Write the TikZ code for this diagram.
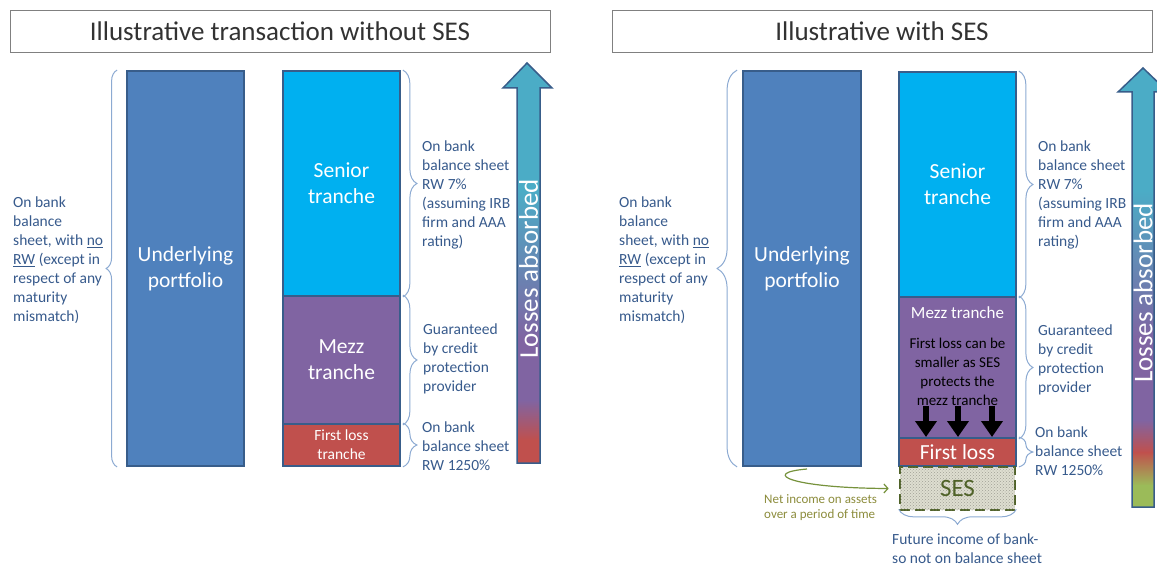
\documentclass[tikz,border=0pt]{standalone}
\usepackage{fontspec}
\setmainfont{Carlito}
\usetikzlibrary{decorations.pathreplacing,patterns,arrows.meta}
\definecolor{portblue}{HTML}{4F81BD}
\definecolor{rimblue}{HTML}{385D8A}
\definecolor{senblue}{HTML}{00B0F0}
\definecolor{mezzpurple}{HTML}{8064A2}
\definecolor{flred}{HTML}{C0504D}
\definecolor{arrteal}{HTML}{4BACC6}
\definecolor{arrgreen}{HTML}{9BBB59}
\definecolor{annotc}{RGB}{55,90,140}
\definecolor{bracec}{RGB}{140,170,210}
\definecolor{sesline}{HTML}{4F6228}
\definecolor{sesfill}{RGB}{222,222,208}
\definecolor{sesdot}{RGB}{160,160,150}
\definecolor{netc}{RGB}{140,140,60}
\definecolor{netarr}{RGB}{118,146,60}
\definecolor{titlec}{RGB}{50,50,50}
\tikzset{
  tranche/.style={draw=rimblue, line width=1.8pt, inner sep=0pt, text=white, align=center},
  bigtxt/.style={font=\fontsize{21.5}{26}\selectfont},
  annot/.style={text=annotc, align=left, anchor=west, inner sep=0pt, font=\fontsize{15.5}{19}\selectfont},
  brc/.style={draw=bracec, line width=1pt, decorate, decoration={brace, amplitude=#1}},
  brc/.default=12,
  titlebox/.style={draw=gray, line width=0.8pt, minimum width=540pt, minimum height=42pt, inner sep=0pt, text=titlec, font=\fontsize{27}{32}\selectfont},
  lossarrow/.style={draw=rimblue, line width=1.5pt, line join=miter},
  losstxt/.style={rotate=90, text=white, inner sep=0pt, font=\fontsize{27}{32}\selectfont},
  downarr/.style={line width=6pt, -{Triangle[width=21pt,length=16pt]}},
}
\begin{document}
\begin{tikzpicture}[x=1pt, y=-1pt]
\useasboundingbox (0,0) rectangle (1157,567);

% ---------- titles ----------
\node (t1) [titlebox] at (280,31) {Illustrative transaction without SES};
\node (t2) [titlebox] at (882,31) {Illustrative with SES};

% ---------- left panel ----------
\node (port) [tranche, fill=portblue, minimum width=117pt, minimum height=395pt, bigtxt] at (185.5,268.5) {Underlying\\portfolio};
\node (sen) [tranche, fill=senblue, minimum width=117pt, minimum height=225pt, bigtxt] at (341.5,183.5) {Senior\\tranche};
\node (mezz) [tranche, fill=mezzpurple, minimum width=117pt, minimum height=128pt, bigtxt] at (341.5,360) {Mezz\\tranche};
\node (fl) [tranche, fill=flred, minimum width=117pt, minimum height=42pt, font=\fontsize{15.5}{19}\selectfont] at (341.5,445) {First loss\\tranche};

\draw[brc=11] ([xshift=-9pt]port.south west) -- ([xshift=-9pt]port.north west);
\draw[brc=14] ([xshift=2pt]sen.north east) -- ([xshift=2pt]sen.south east);
\draw[brc=14] ([xshift=2pt]mezz.north east) -- ([xshift=2pt]mezz.south east);
\draw[brc=14] ([xshift=2pt]fl.north east) -- ([xshift=2pt]fl.south east);

\node (a1) [annot] at (13,260) {On bank\\balance\\sheet, with \underline{no}\\\underline{RW} (except in\\respect of any\\maturity\\mismatch)};
\node (a2) [annot] at (422,194.5) {On bank\\balance sheet\\RW 7\%\\(assuming IRB\\firm and AAA\\rating)};
\node (a3) [annot] at (423,359) {Guaranteed\\by credit\\protection\\provider};
\node (a4) [annot] at (422,446) {On bank\\balance sheet\\RW 1250\%};

% losses arrow (left)
\fill[arrteal] (527,63) -- (552,88) -- (503,88) -- cycle;
\fill[arrteal] (517,87) rectangle (540,190.5);
\shade[top color=arrteal, bottom color=mezzpurple] (517,190) rectangle (540,340.5);
\fill[mezzpurple] (517,340) rectangle (540,400.5);
\shade[top color=mezzpurple, bottom color=flred] (517,400) rectangle (540,440.5);
\fill[flred] (517,440) rectangle (540,463);
\draw[lossarrow] (527,63) -- (552,88) -- (540,88) -- (540,463) -- (517,463) -- (517,88) -- (503,88) -- cycle;
\node (lossL) [losstxt] at (528.5,269) {Losses absorbed};

% ---------- right panel ----------
\node (port2) [tranche, fill=portblue, minimum width=118pt, minimum height=395pt, bigtxt] at (802,268.5) {Underlying\\portfolio};
\node (sen2) [tranche, fill=senblue, minimum width=117pt, minimum height=225pt, bigtxt] at (957.5,184.5) {Senior\\tranche};
\node (mezz2) [tranche, fill=mezzpurple, minimum width=117pt, minimum height=141pt] at (957.5,367.5) {};
\node (fl2) [tranche, fill=flred, minimum width=117pt, minimum height=28pt, font=\fontsize{21.5}{26}\selectfont] at (957.5,452) {First loss};
\node (ses) [draw=sesline, line width=2.6pt, dash pattern=on 10pt off 5pt, fill=sesfill,
  postaction={pattern=crosshatch dots, pattern color=sesdot},
  minimum width=115pt, minimum height=43pt, inner sep=0pt, text=sesline,
  font=\fontsize{25}{30}\selectfont] at (957.5,488.5) {SES};

\node (mezzlbl) [text=white, inner sep=0pt, font=\fontsize{17}{20}\selectfont] at (957.5,313) {Mezz tranche};
\node (mezzbody) [align=center, inner sep=0pt, font=\fontsize{15}{19}\selectfont] at (957.5,371.5) {First loss can be\\smaller as SES\\protects the\\mezz tranche};

\coordinate (d1a) at (926,406); \coordinate (d1b) at (926,437);
\coordinate (d2a) at (958,406); \coordinate (d2b) at (958,437);
\coordinate (d3a) at (992,406); \coordinate (d3b) at (992,437);
\draw[downarr] (d1a) -- (d1b);
\draw[downarr] (d2a) -- (d2b);
\draw[downarr] (d3a) -- (d3b);

\draw[brc=20] ([xshift=-5pt]port2.south west) -- ([xshift=-5pt]port2.north west);
\draw[brc=14] ([xshift=2pt]sen2.north east) -- ([xshift=2pt]sen2.south east);
\draw[brc=14] ([xshift=2pt]mezz2.north east) -- ([xshift=2pt]mezz2.south east);
\draw[brc=14] ([xshift=2pt]fl2.north east) -- ([xshift=2pt]fl2.south east);
\draw[brc=15] ([yshift=2pt]ses.south east) -- ([yshift=2pt]ses.south west);

\node (b1) [annot] at (619,260) {On bank\\balance\\sheet, with \underline{no}\\\underline{RW} (except in\\respect of any\\maturity\\mismatch)};
\node (b2) [annot] at (1038,195) {On bank\\balance sheet\\RW 7\%\\(assuming IRB\\firm and AAA\\rating)};
\node (b3) [annot] at (1038,360) {Guaranteed\\by credit\\protection\\provider};
\node (b4) [annot] at (1035,451) {On bank\\balance sheet\\RW 1250\%};
\node (b5) [annot] at (892,548.5) {Future income of bank-\\so not on balance sheet};

% net income
\coordinate (nistart) at (807,469);
\draw[netarr, line width=1.2pt, -{Straight Barb[length=4pt,width=9pt]}] (nistart) .. controls (760,473) and (790,488) .. ([xshift=-10pt]ses.west);
\node (ni) [anchor=west, align=left, inner sep=0pt, text=netc, font=\fontsize{13}{15}\selectfont] at (764,508) {Net income on assets\\over a period of time};

% losses arrow (right)
\fill[arrteal] (1143,68) -- (1168,92) -- (1118,92) -- cycle;
\fill[arrteal] (1132,91) rectangle (1154,190.5);
\shade[top color=arrteal, bottom color=mezzpurple] (1132,190) rectangle (1154,340.5);
\fill[mezzpurple] (1132,340) rectangle (1154,420.5);
\shade[top color=mezzpurple, bottom color=flred] (1132,420) rectangle (1154,452.5);
\shade[top color=flred, bottom color=arrgreen] (1132,452) rectangle (1154,485.5);
\fill[arrgreen] (1132,485) rectangle (1154,507);
\draw[lossarrow] (1143,68) -- (1168,92) -- (1154,92) -- (1154,507) -- (1132,507) -- (1132,92) -- (1118,92) -- cycle;
\node (lossR) [losstxt] at (1143,293) {Losses absorbed};
\end{tikzpicture}
\end{document}
